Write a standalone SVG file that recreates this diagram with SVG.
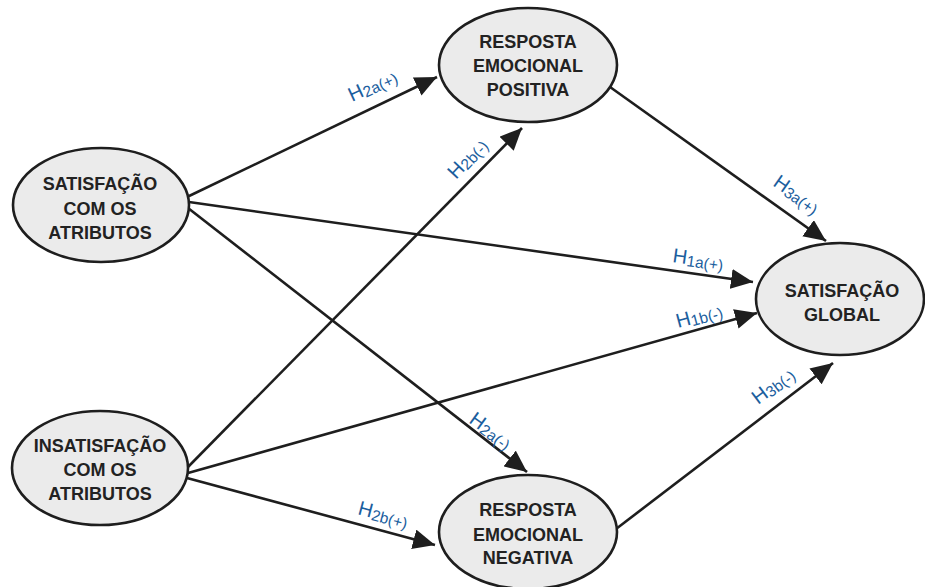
<svg xmlns="http://www.w3.org/2000/svg" width="925" height="587" viewBox="0 0 925 587">
  <style>
    .edge { stroke: #1e1e1e; stroke-width: 2.6; fill: none; marker-end: url(#arrow); }
    .node ellipse { fill: #ebebeb; stroke: #1e1e1e; stroke-width: 2.6; }
    .node text { font-family: "Liberation Sans", Arial, sans-serif; font-weight: bold; font-size: 18px; fill: #222; text-anchor: middle; }
    .lbl { font-family: "Liberation Sans", Arial, sans-serif; fill: #1b5e9e; }
    .lbl .h { font-size: 20px; }
    .lbl .s { font-size: 15.5px; }
  </style>
  <defs>
    <marker id="arrow" markerUnits="userSpaceOnUse" markerWidth="24" markerHeight="20" refX="22" refY="10" orient="auto">
      <path d="M0,0 L22,10 L0,20 Z" fill="#1e1e1e"/>
    </marker>
  </defs>
  <rect width="925" height="587" fill="#ffffff"/>

  <g id="connectors">
    <line class="edge" x1="187" y1="197" x2="437" y2="77"/>
    <line class="edge" x1="189" y1="202" x2="753" y2="282"/>
    <line class="edge" x1="188" y1="208" x2="527" y2="472"/>
    <line class="edge" x1="186" y1="469" x2="522" y2="128"/>
    <line class="edge" x1="188" y1="473" x2="757" y2="313"/>
    <line class="edge" x1="187" y1="478" x2="435" y2="545"/>
    <line class="edge" x1="610" y1="87" x2="826" y2="241"/>
    <line class="edge" x1="616" y1="529" x2="833" y2="363"/>
  </g>

  <g id="labels">
    <text class="lbl" transform="translate(352,102) rotate(-25)"><tspan class="h">H</tspan><tspan class="s" dy="2">2a(+)</tspan></text>
    <text class="lbl" transform="translate(456,180) rotate(-47)"><tspan class="h">H</tspan><tspan class="s" dy="2">2b(-)</tspan></text>
    <text class="lbl" transform="translate(772,185) rotate(35)"><tspan class="h">H</tspan><tspan class="s" dy="2">3a(+)</tspan></text>
    <text class="lbl" transform="translate(672,262) rotate(8)"><tspan class="h">H</tspan><tspan class="s" dy="2">1a(+)</tspan></text>
    <text class="lbl" transform="translate(678,328) rotate(-15)"><tspan class="h">H</tspan><tspan class="s" dy="2">1b(-)</tspan></text>
    <text class="lbl" transform="translate(468,422) rotate(36)"><tspan class="h">H</tspan><tspan class="s" dy="2">2a(-)</tspan></text>
    <text class="lbl" transform="translate(357,514) rotate(15)"><tspan class="h">H</tspan><tspan class="s" dy="2">2b(+)</tspan></text>
    <text class="lbl" transform="translate(758,405) rotate(-37)"><tspan class="h">H</tspan><tspan class="s" dy="2">3b(-)</tspan></text>
  </g>

  <g id="sat-atributos" class="node">
    <ellipse cx="101" cy="205" rx="88" ry="57"/>
    <text x="100" y="190">SATISFAÇÃO</text>
    <text x="100" y="215">COM OS</text>
    <text x="100" y="239">ATRIBUTOS</text>
  </g>

  <g id="insat-atributos" class="node">
    <ellipse cx="100" cy="468" rx="88" ry="57"/>
    <text x="100" y="452">INSATISFAÇÃO</text>
    <text x="100" y="476">COM OS</text>
    <text x="100" y="500">ATRIBUTOS</text>
  </g>

  <g id="resp-positiva" class="node">
    <ellipse cx="528" cy="65" rx="89" ry="57"/>
    <text x="528" y="48">RESPOSTA</text>
    <text x="528" y="72">EMOCIONAL</text>
    <text x="528" y="96">POSITIVA</text>
  </g>

  <g id="resp-negativa" class="node">
    <ellipse cx="528" cy="532" rx="89" ry="57"/>
    <text x="528" y="516">RESPOSTA</text>
    <text x="528" y="541">EMOCIONAL</text>
    <text x="528" y="564">NEGATIVA</text>
  </g>

  <g id="sat-global" class="node">
    <ellipse cx="840" cy="299" rx="84" ry="56"/>
    <text x="842" y="297">SATISFAÇÃO</text>
    <text x="842" y="321">GLOBAL</text>
  </g>
</svg>
